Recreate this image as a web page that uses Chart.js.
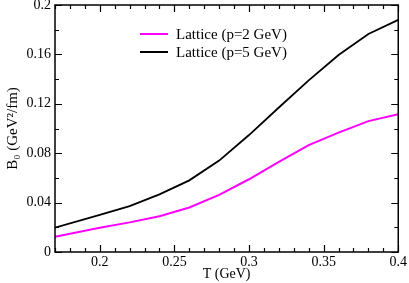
<!DOCTYPE html>
<html>
<head>
<meta charset="utf-8">
<script src="https://cdn.jsdelivr.net/npm/chart.js@4"></script>
<style>
  html, body { margin: 0; padding: 0; background: #fff; }
  #wrap { width: 409px; height: 283px; }
</style>
</head>
<body>
<div id="wrap"><canvas id="bieudo"></canvas></div>
<script>
// du lieu doc tu hinh
var nhietDo = [0.17, 0.2, 0.22, 0.24, 0.26, 0.28, 0.30, 0.32, 0.34, 0.36, 0.38, 0.40];
var b0P2 = [0.0124, 0.0197, 0.024, 0.029, 0.036, 0.0463, 0.0589, 0.073, 0.0866, 0.0966, 0.106, 0.1115];
var b0P5 = [0.0197, 0.030, 0.0372, 0.0467, 0.058, 0.074, 0.0947, 0.117, 0.139, 0.1595, 0.1765, 0.188];
var tenP2 = 'Lattice (p=2 GeV)';
var tenP5 = 'Lattice (p=5 GeV)';
var xTicks = [0.2, 0.25, 0.3, 0.35, 0.4];
var yTicks = [0, 0.04, 0.08, 0.12, 0.16, 0.2];

var FONT = "'Liberation Serif', 'Times New Roman', serif";

function toPoints(xs, ys) {
    var pts = [];
    for (var i = 0; i < xs.length; i++) pts.push({ x: xs[i], y: ys[i] });
    return pts;
}

// khung + vach chia huong vao trong (kieu xmgrace)
var khungPlugin = {
    id: 'khung',
    afterDraw: function (chart) {
        var ctx = chart.ctx, a = chart.chartArea;
        var sx = chart.scales.x, sy = chart.scales.y;
        ctx.save();
        ctx.strokeStyle = '#000';
        ctx.lineWidth = 1.5;
        ctx.strokeRect(a.left, a.top, a.right - a.left, a.bottom - a.top);
        ctx.lineWidth = 1.2;
        ctx.beginPath();
        var v, p, len;
        for (v = 17; v <= 40; v++) {
            p = Math.round(sx.getPixelForValue(v / 100)) + 0.5;
            len = (v % 5 === 0) ? 7 : 4;
            ctx.moveTo(p, a.bottom); ctx.lineTo(p, a.bottom - len);
            ctx.moveTo(p, a.top); ctx.lineTo(p, a.top + len);
        }
        for (v = 0; v <= 20; v += 2) {
            p = Math.round(sy.getPixelForValue(v / 100)) + 0.5;
            len = (v % 4 === 0) ? 7 : 4;
            ctx.moveTo(a.left, p); ctx.lineTo(a.left + len, p);
            ctx.moveTo(a.right, p); ctx.lineTo(a.right - len, p);
        }
        ctx.stroke();

        // chu thich ben trong vung ve
        ctx.font = '15px ' + FONT;
        ctx.textBaseline = 'middle';
        ctx.fillStyle = '#000';
        chart.data.datasets.forEach(function (ds, i) {
            var y = a.top + 29 + i * 18;
            ctx.strokeStyle = ds.borderColor;
            ctx.lineWidth = 2;
            ctx.beginPath();
            ctx.moveTo(a.left + 85, y);
            ctx.lineTo(a.left + 113, y);
            ctx.stroke();
            ctx.fillText(ds.label, a.left + 121, y + 1);
        });
        ctx.restore();
    }
};

var ctx = document.getElementById('bieudo').getContext('2d');
var bieuDo = new Chart(ctx, {
    type: 'line',
    data: {
        datasets: [{
            label: tenP2,
            data: toPoints(nhietDo, b0P2),
            borderColor: '#ff00ff',
            borderWidth: 2,
            pointRadius: 0,
            fill: false,
            tension: 0
        }, {
            label: tenP5,
            data: toPoints(nhietDo, b0P5),
            borderColor: '#000000',
            borderWidth: 1.8,
            pointRadius: 0,
            fill: false,
            tension: 0
        }]
    },
    options: {
        responsive: true,
        maintainAspectRatio: false,
        animation: false,
        layout: { padding: { top: 0, right: 10, left: 0, bottom: 0 } },
        plugins: {
            legend: { display: false },
            tooltip: { enabled: false }
        },
        scales: {
            x: {
                type: 'linear',
                min: 0.17,
                max: 0.4,
                afterBuildTicks: function (s) {
                    s.ticks = xTicks.map(function (v) { return { value: v }; });
                },
                afterFit: function (s) { s.height = 31; },
                grid: { display: false, drawTicks: false },
                border: { display: false },
                ticks: {
                    color: '#000',
                    padding: 2,
                    maxRotation: 0,
                    font: { family: FONT, size: 14 },
                    callback: function (v) { return String(v); }
                },
                title: {
                    display: true,
                    text: 'T (GeV)',
                    color: '#000',
                    padding: 0,
                    font: { family: FONT, size: 14 }
                }
            },
            y: {
                min: 0,
                max: 0.2,
                afterBuildTicks: function (s) {
                    s.ticks = yTicks.map(function (v) { return { value: v }; });
                },
                afterFit: function (s) {
                    s.width = 55;
                    s.paddingTop = 5;
                },
                grid: { display: false, drawTicks: false },
                border: { display: false },
                ticks: {
                    color: '#000',
                    padding: 4,
                    font: { family: FONT, size: 14 },
                    callback: function (v) { return String(v); }
                },
                title: {
                    display: true,
                    text: 'B\u2080 (GeV\u00b2/fm)',
                    color: '#000',
                    padding: { top: 4, bottom: 0 },
                    font: { family: FONT, size: 15 }
                }
            }
        }
    },
    plugins: [khungPlugin]
});
</script>
</body>
</html>
